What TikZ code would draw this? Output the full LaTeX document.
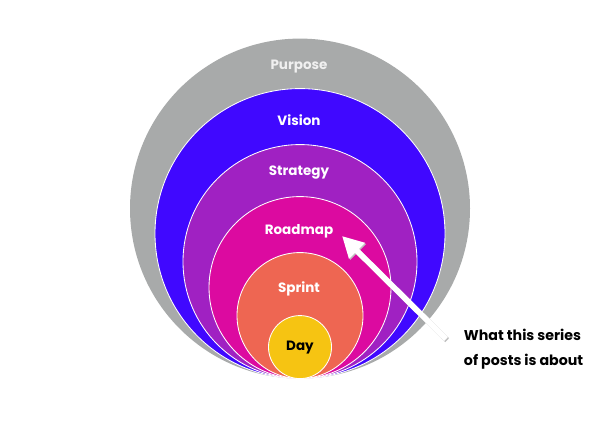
\documentclass[tikz,border=0pt]{standalone}
\usepackage{fontspec}
\setmainfont{Poppins}
\usetikzlibrary{arrows.meta, positioning}

\definecolor{purposegray}{HTML}{A8AAAA}
\definecolor{visionblue}{HTML}{4008FF}
\definecolor{strategypurple}{HTML}{A021C2}
\definecolor{roadmapmagenta}{HTML}{DC0AA0}
\definecolor{sprintsalmon}{HTML}{EE6652}
\definecolor{dayyellow}{HTML}{F6C412}

\begin{document}
\begin{tikzpicture} [
						x=0.025cm, y=-0.025cm,
						ring/.style={circle, draw=white, line width=0.6pt, inner sep=0pt, anchor=south},
						tag/.style={text=white, font=\bfseries\fontsize{9.6}{12}\selectfont},
						pointer/.style={-{Triangle[length=15pt, width=15pt]}, line width=4pt}
					]

\useasboundingbox (0,0) rectangle (610,427);

\node (purpose)  [ring, draw=none, fill=purposegray, minimum size=340*0.025cm] at (300,379) {};
\node (vision)   [ring, fill=visionblue,     minimum size=290*0.025cm] at (purpose.south) {};
\node (strategy) [ring, fill=strategypurple, minimum size=234*0.025cm] at (purpose.south) {};
\node (roadmap)  [ring, fill=roadmapmagenta, minimum size=182*0.025cm] at (purpose.south) {};
\node (sprint)   [ring, fill=sprintsalmon,   minimum size=126*0.025cm] at (purpose.south) {};
\node (day)      [ring, fill=dayyellow,      minimum size=63*0.025cm]  at (purpose.south) {};

\node (purposetxt)  [tag, text=white!94!black] at (299,67)  {Purpose};
\node (visiontxt)   [tag] at (299,120) {Vision};
\node (strategytxt) [tag] at (299,173) {Strategy};
\node (roadmaptxt)  [tag] at (299,231) {Roadmap};
\node (sprinttxt)   [tag] at (299,289) {Sprint};
\node (daytxt)      [tag, text=black] at (day.center) {Day};

\node (note) [anchor=west, align=left, font=\bfseries\fontsize{10.1}{17.5}\selectfont] at (459,349)
	{What this series\\of posts is about};

\coordinate (tail) at (446,339);
\coordinate (tip)  at (342,236);

\draw[pointer, black!25, transform canvas={shift={(0.8pt,-0.8pt)}}] (tail) -- (tip);
\draw[pointer, white] (tail) -- (tip);
\end{tikzpicture}
\end{document}
